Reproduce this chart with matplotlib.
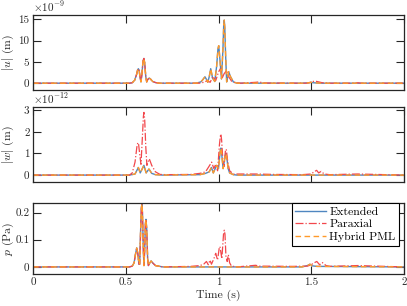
import matplotlib
matplotlib.use("Agg")
import matplotlib.pyplot as plt

plt.rcParams['font.family'] = ['cmr10', 'DejaVu Serif']
plt.rcParams['mathtext.fontset'] = 'cm'
plt.rcParams['axes.formatter.use_mathtext'] = True
plt.rcParams['axes.unicode_minus'] = False

# ---------------- data ----------------
# |u| (x1e-9 m)
u_ext_t = [0, 0.52, 0.535, 0.548, 0.558, 0.564, 0.568, 0.572, 0.578, 0.582, 0.587, 0.593, 0.598, 0.602, 0.608,
           0.613, 0.619, 0.627, 0.635, 0.645, 0.66, 0.68,
           0.88, 0.905, 0.915, 0.927, 0.935, 0.942, 0.95, 0.958, 0.968, 0.98, 0.99, 0.997, 1.001, 1.005, 1.016,
           1.024, 1.028, 1.031, 1.034, 1.038, 1.044, 1.05, 1.055, 1.065, 1.08, 1.1, 1.45, 1.49, 1.5, 1.51, 1.55, 2.0]
u_ext_v = [0, 0, 0.1, 0.7, 2.0, 3.1, 3.4, 3.0, 1.2, 0.3, 2.0, 5.2, 5.8, 4.8, 1.5,
           0.3, 0.9, 1.2, 0.9, 0.4, 0.15, 0,
           0, 0.3, 0.8, 1.5, 0.9, 0.2, 1.5, 3.4, 1.2, 0.4, 4.0, 8.0, 8.8, 7.0, 1.0,
           8.0, 13.5, 14.8, 13.0, 7.0, 0.3, 1.5, 2.7, 1.5, 0.3, 0, 0, 0.1, 0.2, 0.1, 0, 0]
u_par_t = u_ext_t[:22] + [0.9, 0.92, 0.94, 0.955, 0.97, 0.985, 1.0, 1.01, 1.02, 1.03, 1.044, 1.055, 1.07, 1.09, 1.12,
                          1.2, 1.22, 1.24, 1.48, 1.5, 1.52, 1.54, 1.56, 1.6, 1.73, 1.75, 1.77, 2.0]
u_par_v = u_ext_v[:22] + [0, 0.2, 0.6, 0.2, 1.6, 0.6, 2.6, 3.4, 1.2, 2.2, 3.0, 1.5, 0.5, 0.1, 0,
                          0.2, 0.3, 0.05, 0, 0.3, 0.5, 0.3, 0.1, 0, 0, 0.1, 0, 0]
u_pml_t = u_ext_t
u_pml_v = u_ext_v

# |w| (x1e-12 m)
w_ext_t = [0, 0.52, 0.55, 0.568, 0.578, 0.598, 0.61, 0.625, 0.64, 0.66, 0.7, 0.9, 0.93, 0.95, 0.962, 0.972,
           0.99, 1.0, 1.009, 1.013, 1.017, 1.025, 1.036, 1.04, 1.045, 1.052, 1.06, 1.08, 1.1, 2.0]
w_ext_v = [0, 0, 0.05, 0.35, 0.1, 0.45, 0.1, 0.28, 0.08, 0.02, 0, 0.02, 0.08, 0.15, 0.35, 0.1,
           0.45, 0.3, 1.1, 1.25, 1.0, 0.3, 0.9, 1.0, 0.8, 0.3, 0.1, 0.02, 0, 0]
w_par_t = [0, 0.52, 0.535, 0.55, 0.56, 0.565, 0.569, 0.576, 0.582, 0.59, 0.595, 0.598, 0.602, 0.608, 0.614,
           0.62, 0.627, 0.64, 0.66, 0.685, 0.72, 0.85, 0.9, 0.93, 0.945, 0.963, 0.975, 0.985, 0.995, 1.005,
           1.01, 1.013, 1.017, 1.024, 1.03, 1.037, 1.042, 1.05, 1.06, 1.08, 1.2, 1.3, 1.45, 1.5, 1.515,
           1.529, 1.54, 1.553, 1.57, 1.6, 1.75, 2.0]
w_par_v = [0, 0, 0.1, 0.6, 1.3, 1.5, 1.45, 0.9, 0.5, 1.8, 2.7, 2.9, 2.6, 1.3, 0.45,
           0.6, 0.75, 0.45, 0.15, 0.03, 0.02, 0.03, 0.08, 0.15, 0.35, 0.6, 0.3, 0.5, 0.2, 1.4,
           1.8, 1.9, 1.6, 0.6, 0.4, 1.1, 1.2, 0.6, 0.2, 0.05, 0.05, 0.03, 0.02, 0.05, 0.15,
           0.22, 0.1, 0.17, 0.05, 0.02, 0.05, 0]
w_pml_t = w_ext_t
w_pml_v = w_ext_v

# p (Pa)
p_ext_t = [0, 0.52, 0.535, 0.545, 0.552, 0.559, 0.565, 0.571, 0.575, 0.58, 0.584, 0.587, 0.59, 0.595, 0.598,
           0.602, 0.606, 0.609, 0.613, 0.618, 0.622, 0.63, 0.637, 0.645, 0.66, 0.7,
           1.45, 1.48, 1.493, 1.505, 1.53, 2.0]
p_ext_v = [0, 0, 0.003, 0.015, 0.045, 0.07, 0.05, 0.01, 0.01, 0.13, 0.215, 0.232, 0.2, 0.06, 0.005,
           0.06, 0.16, 0.175, 0.14, 0.03, 0.005, 0.015, 0.022, 0.015, 0.005, 0,
           0, 0.005, 0.01, 0.004, 0.002, 0]
p_par_t = p_ext_t[:26] + [0.85, 0.9, 0.92, 0.935, 0.945, 0.954, 0.962, 0.975, 0.985, 0.995,
                          1.004, 1.008, 1.018, 1.027, 1.031, 1.035, 1.04, 1.047, 1.053, 1.06, 1.07, 1.1, 1.2,
                          1.22, 1.4, 1.48, 1.5, 1.515, 1.53, 1.545, 1.56, 1.58, 1.6, 1.75, 2.0]
p_par_v = p_ext_v[:26] + [0.002, 0.005, 0.01, 0.02, 0.008, 0.025, 0.01, 0.03, 0.05, 0.025,
                          0.07, 0.075, 0.03, 0.12, 0.135, 0.12, 0.04, 0.02, 0.045, 0.015, 0.003, 0, 0.006,
                          0.003, 0.002, 0.003, 0.008, 0.015, 0.02, 0.008, 0.016, 0.005, 0.002, 0.005, 0]
p_pml_t = p_ext_t
p_pml_v = p_ext_v

labels = ["Extended", "Paraxial", "Hybrid PML"]
x_ticks = [0, 0.5, 1, 1.5, 2]
x_ticklabels = ["0", "0.5", "1", "1.5", "2"]

# ---------------- styling ----------------
c_ext = '#4f86c0'
c_par = '#f2474c'
c_pml = '#ff9a2a'
ax_color = '#262626'
fs = 8.5
fs_tick = 8

fig = plt.figure(figsize=(4.07, 3.06), dpi=100)
W, H = 407, 306
def pos(left, top, right, bottom):
    return [left / W, 1 - bottom / H, (right - left) / W, (bottom - top) / H]

ax1 = fig.add_axes(pos(33, 15, 404, 90))
ax2 = fig.add_axes(pos(33, 107, 404, 182))
ax3 = fig.add_axes(pos(33, 203, 404, 274))

panels = [
    (ax1, (u_ext_t, u_ext_v), (u_par_t, u_par_v), (u_pml_t, u_pml_v), (-1.6, 16), [0, 5, 10, 15], ["0", "5", "10", "15"], r'$|u|$ (m)', r'$\times10^{-9}$'),
    (ax2, (w_ext_t, w_ext_v), (w_par_t, w_par_v), (w_pml_t, w_pml_v), (-0.32, 3.15), [0, 1, 2, 3], ["0", "1", "2", "3"], r'$|w|$ (m)', r'$\times10^{-12}$'),
    (ax3, (p_ext_t, p_ext_v), (p_par_t, p_par_v), (p_pml_t, p_pml_v), (-0.026, 0.235), [0, 0.1, 0.2], ["0", "0.1", "0.2"], r'$p$ (Pa)', None),
]

for ax, ext, par, pml, ylim, yt, ytl, ylab, off in panels:
    ax.plot(ext[0], ext[1], color=c_ext, lw=1.0, ls='-', label=labels[0])
    ax.plot(par[0], par[1], color=c_par, lw=0.9, ls='-.', label=labels[1])
    ax.plot(pml[0], pml[1], color=c_pml, lw=1.0, ls=(0, (4, 2.5)), label=labels[2])
    ax.set_xlim(0, 2)
    ax.set_ylim(*ylim)
    ax.set_xticks(x_ticks)
    ax.set_yticks(yt)
    ax.set_yticklabels(ytl)
    ax.set_ylabel(ylab, fontsize=fs, color=ax_color)
    ax.yaxis.set_label_coords(-0.046, 0.5)
    ax.tick_params(direction='in', top=True, right=True, length=6, width=0.8,
                   colors=ax_color, labelsize=fs_tick, pad=2.5)
    for s in ax.spines.values():
        s.set_color(ax_color)
        s.set_linewidth(0.9)
    if off:
        ax.text(0.0, 1.02, off, transform=ax.transAxes, fontsize=fs_tick, color=ax_color,
                ha='left', va='bottom')
    if ax is not ax3:
        ax.set_xticklabels([])
    else:
        ax.set_xticklabels(x_ticklabels)

ax3.set_xlabel("Time (s)", fontsize=fs, color=ax_color, labelpad=2)
leg = ax3.legend(loc='upper right', fontsize=fs, frameon=True, fancybox=False,
                 framealpha=1, edgecolor='#000000', handlelength=2.6, handletextpad=0.3,
                 borderpad=0.3, labelspacing=0.2, borderaxespad=0.0,
                 bbox_to_anchor=(0.987, 1.0))
leg.get_frame().set_linewidth(0.8)

fig.savefig("out.png", dpi=100)
